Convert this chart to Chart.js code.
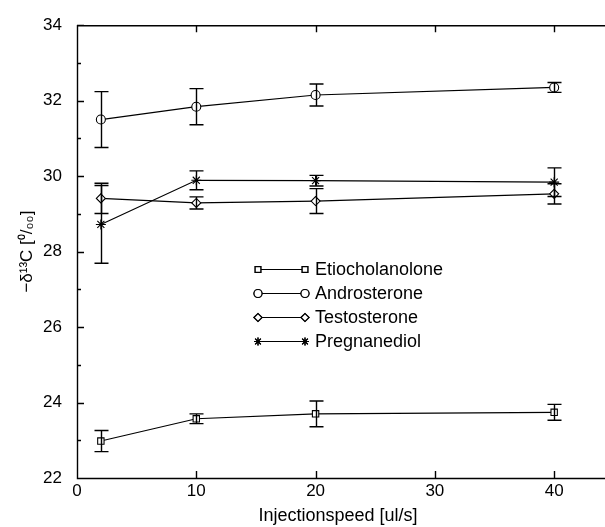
<!DOCTYPE html>
<html>
<head>
<meta charset="utf-8">
<script src="https://cdn.jsdelivr.net/npm/chart.js@4"></script>
<style>
  html, body { margin: 0; padding: 0; background: #fff; }
  #wrap { width: 605px; height: 527px; }
</style>
</head>
<body>
<div id="wrap"><canvas id="chart"></canvas></div>
<script>
const speeds = [2, 10, 20, 40];
const xTicks = [0, 10, 20, 30, 40];
const yTicks = [22, 24, 26, 28, 30, 32, 34];
const yMinorTicks = [23, 25, 27, 29, 31, 33];

const etiocholanolone = [22.98, 23.57, 23.70, 23.74];
const etiocholanoloneErr = [0.28, 0.13, 0.34, 0.21];
const androsterone = [31.50, 31.84, 32.15, 32.35];
const androsteroneErr = [0.74, 0.48, 0.29, 0.13];
const testosterone = [29.41, 29.29, 29.34, 29.53];
const testosteroneErr = [0.40, 0.16, 0.33, 0.27];
const pregnanediol = [28.72, 29.89, 29.88, 29.84];
const pregnanediolErr = [1.03, 0.25, 0.14, 0.38];

const seriesNames = ["Etiocholanolone", "Androsterone", "Testosterone", "Pregnanediol"];

const FONT = "'Liberation Sans', Arial, sans-serif";

function makeSet(label, values, errs, style) {
  return {
    label: label,
    data: speeds.map((x, i) => ({ x: x, y: values[i] })),
    errs: errs,
    showLine: true,
    borderColor: '#000',
    borderWidth: 1.2,
    pointStyle: style,
    pointRadius: style === 'star' ? 5 : 4.5,
    pointBorderWidth: 1.1,
    pointBackgroundColor: '#fff',
    pointBorderColor: '#000',
    tension: 0
  };
}

const errorBars = {
  id: 'errorBars',
  afterDatasetsDraw(chart) {
    const ctx = chart.ctx;
    const xs = chart.scales.x, ys = chart.scales.y;
    ctx.save();
    ctx.strokeStyle = '#000';
    ctx.lineWidth = 1.4;
    chart.data.datasets.forEach(ds => {
      ds.data.forEach((p, i) => {
        const px = Math.round(xs.getPixelForValue(p.x)) + 0.5;
        const top = ys.getPixelForValue(p.y + ds.errs[i]);
        const bot = ys.getPixelForValue(p.y - ds.errs[i]);
        ctx.beginPath();
        ctx.moveTo(px, top); ctx.lineTo(px, bot);
        ctx.moveTo(px - 7, top); ctx.lineTo(px + 7, top);
        ctx.moveTo(px - 7, bot); ctx.lineTo(px + 7, bot);
        ctx.stroke();
      });
    });
    ctx.restore();
  },
  afterDraw(chart) {
    const ctx = chart.ctx;
    const xs = chart.scales.x, ys = chart.scales.y;
    const a = chart.chartArea;
    ctx.save();
    ctx.strokeStyle = '#000';
    ctx.lineWidth = 1.4;
    // frame (top, left, bottom) - runs to the right edge, no right border
    ctx.beginPath();
    ctx.moveTo(chart.width, a.top + 0.5); ctx.lineTo(a.left + 0.5, a.top + 0.5);
    ctx.lineTo(a.left + 0.5, a.bottom + 0.5); ctx.lineTo(chart.width, a.bottom + 0.5);
    // inward ticks
    yTicks.forEach(v => {
      const py = Math.round(ys.getPixelForValue(v)) + 0.5;
      ctx.moveTo(a.left, py); ctx.lineTo(a.left + 7, py);
    });
    yMinorTicks.forEach(v => {
      const py = Math.round(ys.getPixelForValue(v)) + 0.5;
      ctx.moveTo(a.left, py); ctx.lineTo(a.left + 4, py);
    });
    xTicks.forEach(v => {
      const px = Math.round(xs.getPixelForValue(v)) + 0.5;
      ctx.moveTo(px, a.bottom); ctx.lineTo(px, a.bottom - 7);
      ctx.moveTo(px, a.top); ctx.lineTo(px, a.top + 7);
    });
    ctx.stroke();

    // legend inside the plot
    ctx.font = '18px ' + FONT;
    ctx.fillStyle = '#000';
    ctx.textBaseline = 'middle';
    const x0 = a.left + 181, x1 = a.left + 228;
    chart.data.datasets.forEach((ds, i) => {
      const py = Math.round(a.top + 244 + i * 23.8) + 0.5;
      ctx.lineWidth = 1.2;
      ctx.beginPath();
      ctx.moveTo(x0, py); ctx.lineTo(x1, py);
      ctx.stroke();
      [x0, x1].forEach(px => {
        ctx.fillStyle = '#fff';
        Chart.helpers.drawPoint(ctx, { pointStyle: ds.pointStyle, radius: 4, borderWidth: 1 }, px, py);
        ctx.fill();
        ctx.stroke();
      });
      ctx.fillStyle = '#000';
      ctx.fillText(seriesNames[i], x1 + 10, py + 1);
    });
    ctx.restore();
  }
};

new Chart(document.getElementById('chart'), {
  type: 'scatter',
  data: {
    datasets: [
      makeSet(seriesNames[0], etiocholanolone, etiocholanoloneErr, 'rect'),
      makeSet(seriesNames[1], androsterone, androsteroneErr, 'circle'),
      makeSet(seriesNames[2], testosterone, testosteroneErr, 'rectRot'),
      makeSet(seriesNames[3], pregnanediol, pregnanediolErr, 'star')
    ]
  },
  options: {
    responsive: true,
    maintainAspectRatio: false,
    animation: false,
    layout: { padding: { top: 25, right: 1, left: 0, bottom: 0 } },
    plugins: { legend: { display: false }, tooltip: { enabled: false } },
    scales: {
      x: {
        type: 'linear', min: 0, max: 43.75,
        afterBuildTicks: s => { s.ticks = xTicks.map(v => ({ value: v })); },
        afterFit: s => { s.height = 49; },
        grid: { display: false, drawTicks: false },
        border: { display: false },
        ticks: { color: '#000', font: { family: FONT, size: 17 }, padding: 3, maxRotation: 0 },
        title: { display: true, text: 'Injectionspeed [ul/s]', color: '#000',
                 font: { family: FONT, size: 18 }, padding: { top: 0, bottom: 0 } }
      },
      y: {
        type: 'linear', min: 22, max: 34,
        afterBuildTicks: s => { s.ticks = yTicks.map(v => ({ value: v })); },
        afterFit: s => { s.width = 77; },
        grid: { display: false, drawTicks: false },
        border: { display: false },
        ticks: { color: '#000', font: { family: FONT, size: 17 }, padding: 15 },
        title: { display: true, text: '\u2212\u03b4\u00b9\u00b3C [\u2070/\u2080\u2080]', color: '#000',
                 font: { family: FONT, size: 17 }, padding: { top: 17, bottom: 0 } }
      }
    }
  },
  plugins: [errorBars]
});
</script>
</body>
</html>
